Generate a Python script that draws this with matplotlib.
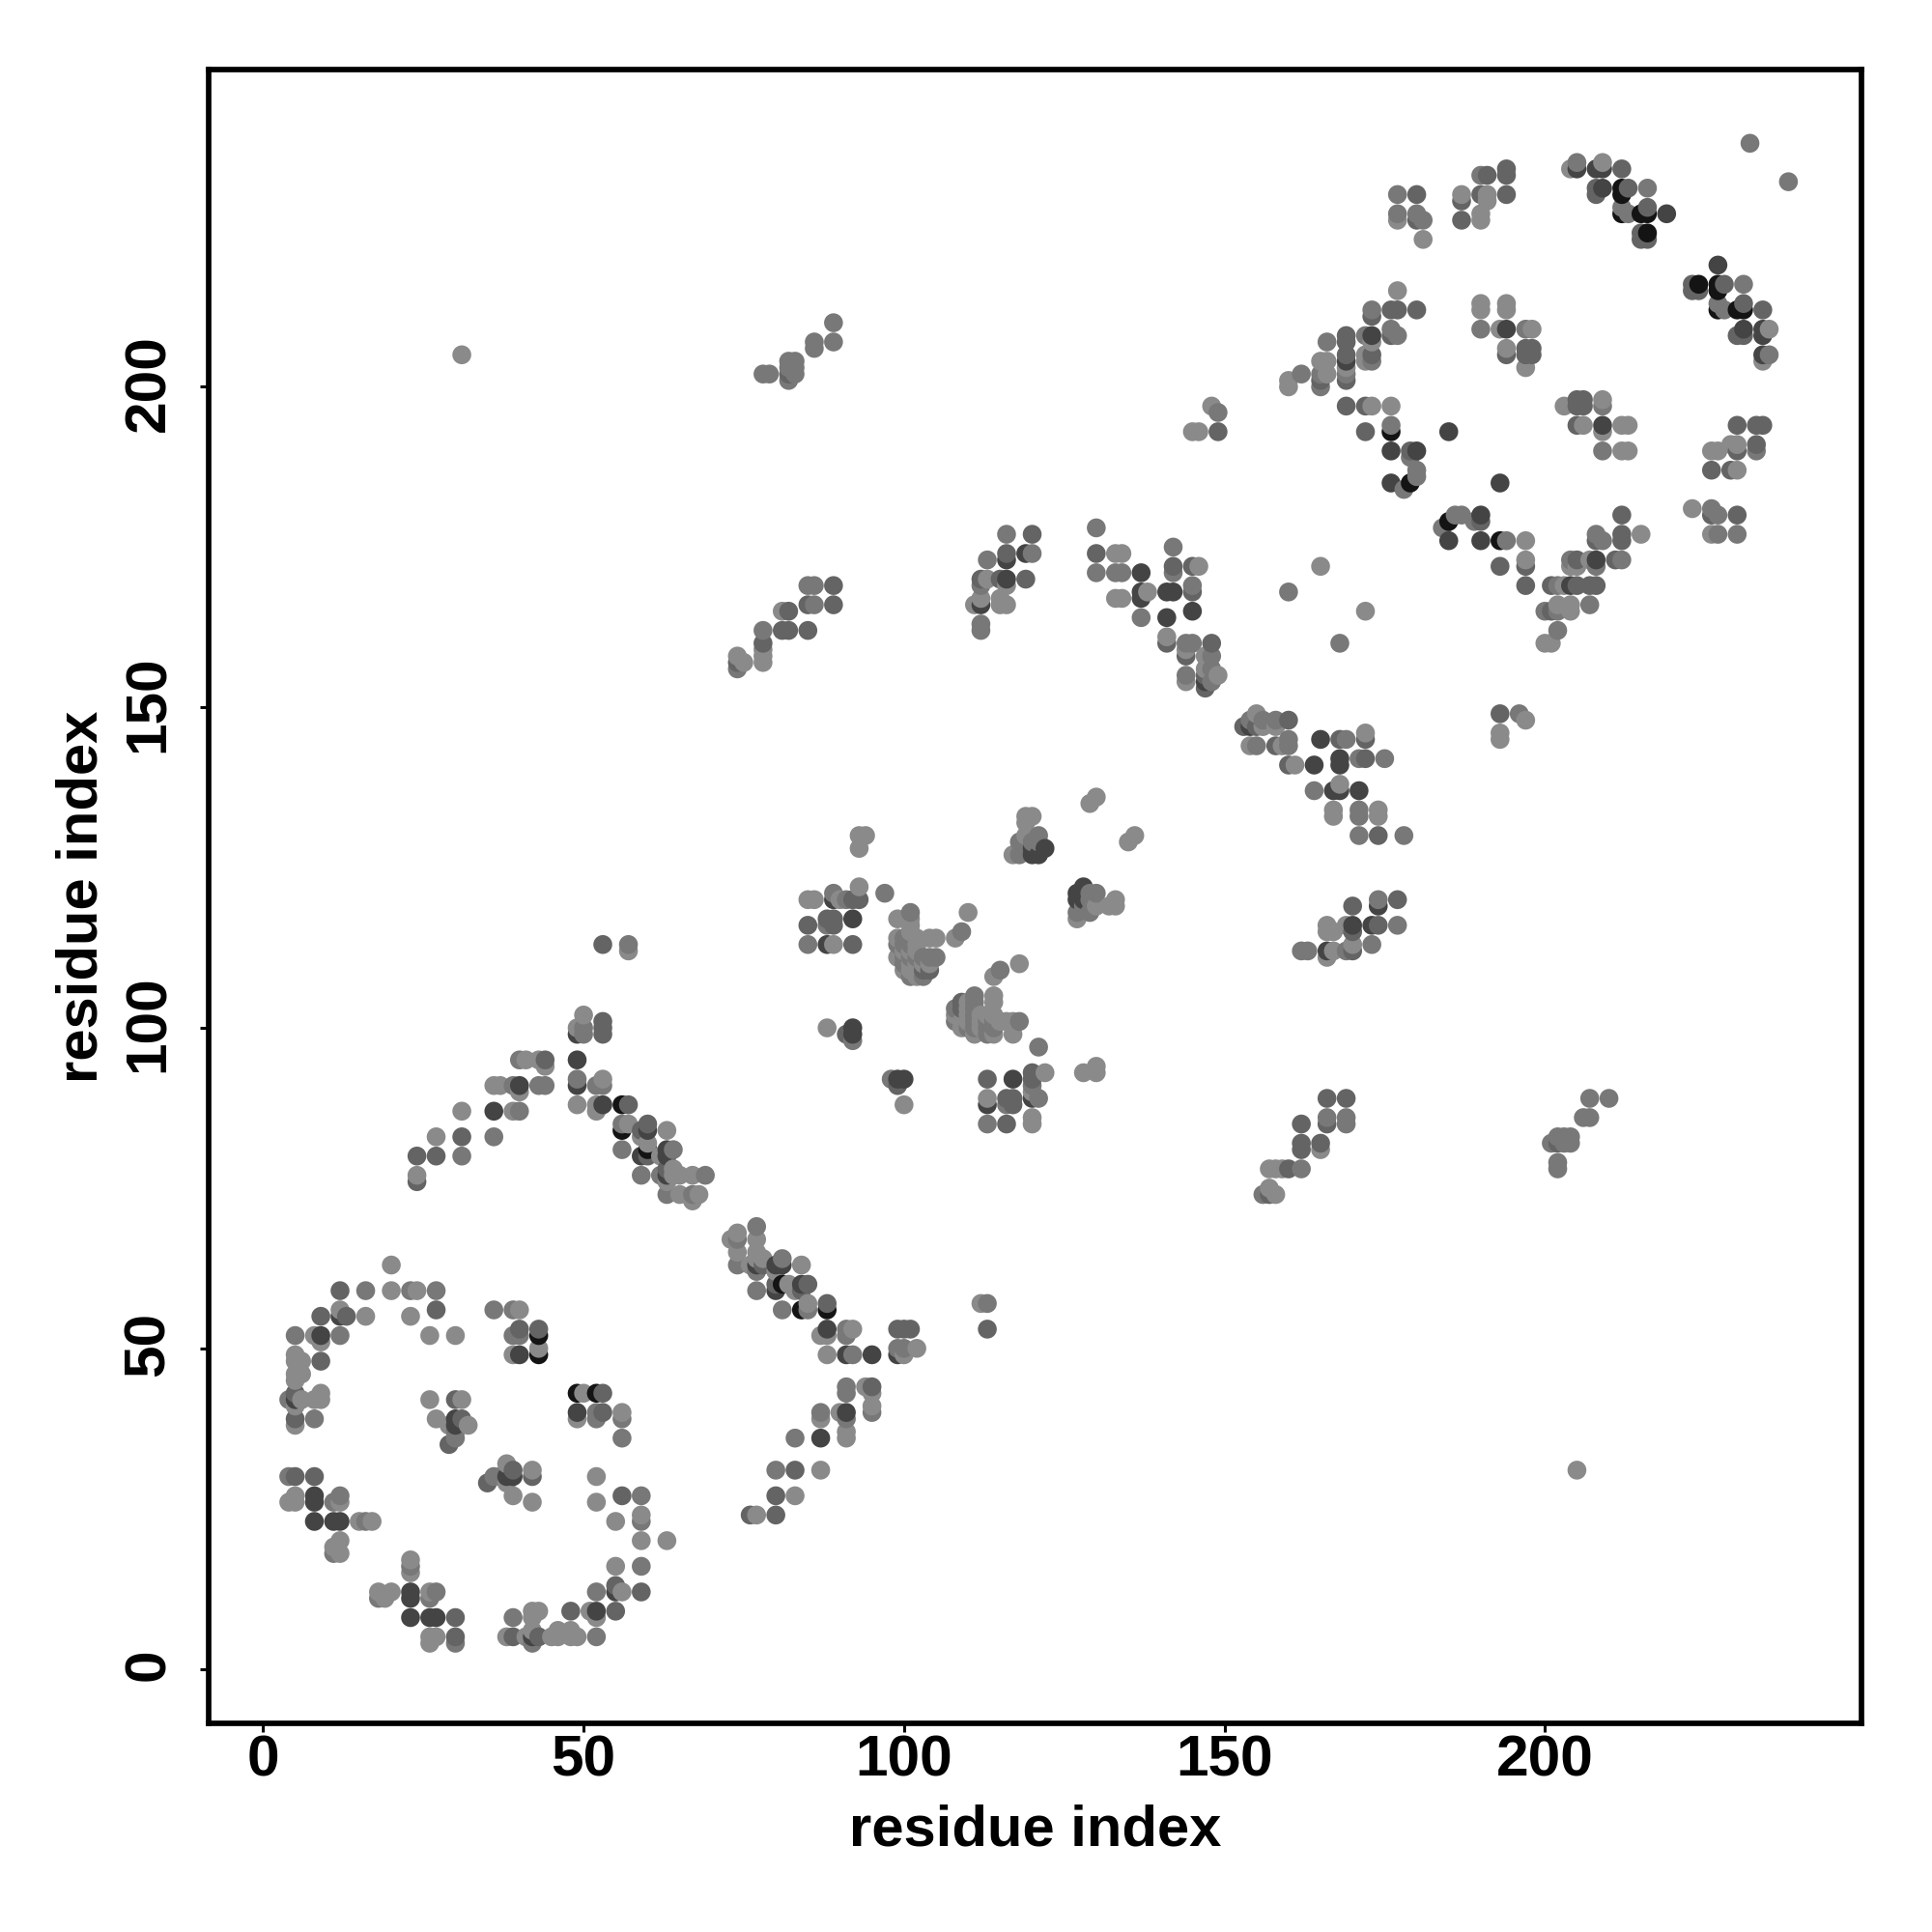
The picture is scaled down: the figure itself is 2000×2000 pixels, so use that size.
import matplotlib
import matplotlib.pyplot as plt
import numpy as np
from matplotlib.transforms import ScaledTranslation

matplotlib.use('Agg')

# residue contacts, (i, j) with i < j; the map is symmetric
black = [(43,49),(43,52),(56,84),(56,88),(60,81),(176,193),(179,185),(212,227),(212,230),(212,231),
         (215,227),(216,224),(216,227)]
dark = [(5,42),(8,23),(8,26),(8,27),(9,52),(11,23),(12,23),(12,55),(30,38),(30,39),(40,49),
        (36,87),(40,91),(49,91),(49,95),(49,99),(53,88),(59,80),(60,84),(63,77),(63,80),(63,81),
        (88,113),(89,120),(92,99),(92,100),(92,117),(120,127),(120,128),(121,127),(122,128),
        (112,166),(116,170),(116,173),(119,174),(137,167),(137,168),(137,171),(141,164),(141,168),
        (142,168),(145,165),(147,154),(173,208),(176,185),(176,190),(180,190),(185,193),(169,204),
        (194,209),(205,234),(208,234),(209,231),(209,234),(219,227)]
dim = [(5,30),(5,39),(5,43),(8,30),(9,48),(9,55),(12,59),(13,55),(27,56),(29,35),(30,42),(31,39),
       (40,53),(43,53),(44,95),(53,99),(53,100),(53,101),(53,113),(24,76),(24,80),(27,80),(31,83),
       (57,88),(59,84),(60,80),(60,85),(63,78),(85,116),(88,117),(89,116),(89,117),(91,99),(92,113),
       (92,120),(93,120),(103,109),(104,109),(127,120),(112,170),(115,170),(116,174),(119,170),
       (120,177),(130,174),(141,160),(142,172),(144,158),(145,168),(145,172),(147,153),(147,155),
       (148,160),(74,157),(78,160),(81,162),(82,162),(82,165),(85,162),(85,166),(89,166),(89,169),
       (82,202),(165,201),(169,201),(169,205),(169,207),(169,208),(172,193),(172,197),(173,211),
       (176,208),(176,212),(177,212),(180,212),(179,190),(149,193),(180,226),(180,230),(187,226),
       (187,229),(190,230),(191,233),(194,230),(194,233),(194,234),(194,205),(197,205),(197,206),
       (198,205),(198,206),(208,230),(208,231),(212,234),(213,231),(215,223),(215,224),(216,223),
       (216,228),(230,190),(230,194),(233,191),(233,194),(234,194),(226,180),(226,187),(230,180),
       (212,176),(212,177),(212,180),(208,176),(193,172),(197,169),(205,173)]
mid = [(4,30),(4,42),(5,52),(8,39),(11,18),(11,26),(12,27),(12,52),(16,23),(16,59),(23,59),(27,59),
       (30,36),(30,37),(36,56),(39,52),(39,56),(40,52),(31,80),(36,83),(39,91),(40,87),(40,95),
       (43,91),(44,91),(49,92),(50,99),(50,100),(52,91),(53,91),(56,81),(56,85),(57,113),(59,77),
       (62,77),(63,74),(64,81),(67,74),(69,77),(85,113),(88,116),(89,121),(91,120),(97,121),(92,98),
       (99,113),(100,110),(100,111),(100,113),(100,114),(101,108),(101,111),(101,113),(101,114),
       (101,118),(102,111),(103,108),(103,111),(104,111),(105,111),(109,115),
       (118,127),(118,129),(119,128),(120,129),(121,129),(121,130),(127,118),(128,119),
       (112,162),(112,163),(112,169),(113,173),(116,177),(120,174),(130,171),(130,178),(133,171),
       (134,171),(137,164),(142,171),(142,175),(144,155),(144,160),(145,160),(145,169),(148,154),
       (148,156),(148,158),(74,156),(78,162),(85,169),(86,166),(86,169),(78,202),(79,202),(82,201),
       (82,203),(82,204),(83,202),(83,203),(83,204),(86,206),(86,207),(89,207),(89,210),(160,168),
       (149,196),(162,202),(165,200),(165,202),(166,207),(169,202),(172,208),(173,204),(173,205),
       (173,212),(176,194),(176,209),(177,208),(179,189),(180,186),(180,187),(177,230),(180,227),
       (181,226),(190,209),(197,209),(205,235),(212,228),(213,227),(216,231),(229,187),(227,180),
       (227,177),(230,177),(233,190),(232,238),(178,184),(211,173)]
light = [(4,26),(5,26),(5,27),(5,38),(5,41),(5,45),(5,46),(5,48),(5,49),(6,42),(6,46),
         (6,48),(8,42),(8,52),(9,42),(9,43),(9,51),(11,19),(12,18),(12,20),(12,26),(12,56),(15,23),
         (16,55),(17,23),(20,59),(20,63),(23,55),(24,59),(26,42),(26,52),(27,39),(29,38),(30,52),
         (31,42),(32,38),(39,49),(40,56),(43,50),(24,77),(27,83),(31,87),(36,91),(37,91),(39,87),
         (40,90),(41,95),(43,95),(44,94),(49,88),(49,100),(50,102),(52,87),(52,88),(53,92),(57,85),
         (57,112),(59,83),(60,82),(62,80),(63,76),(63,84),(64,77),(64,78),(65,74),(65,77),(67,73),
         (67,77),(68,74),(85,120),(86,120),(88,100),(89,113),(90,120),(93,122),(93,128),(93,130),
         (94,130),(99,111),(99,114),(99,117),(100,109),(100,112),(101,109),(101,110),(101,112),
         (101,115),(101,116),(101,117),(102,108),(102,110),(102,112),(102,113),(102,114),(103,110),
         (104,110),(104,114),(105,114),(108,114),(110,118),(117,127),(119,130),(119,132),(119,133),
         (120,133),(129,135),(130,136),(111,166),(112,167),(113,170),(115,166),(115,167),(116,166),
         (116,169),(133,167),(133,174),(134,167),(134,174),(138,168),(141,161),(144,154),(144,159),
         (146,172),(147,156),(147,158),(149,155),(74,158),(75,157),(78,157),(78,158),(78,159),
         (81,165),(145,193),(146,193),(148,197),(165,172),(31,205),(160,200),(160,201),(165,204),
         (166,202),(166,204),(169,203),(172,204),(172,205),(173,197),(173,207),(176,197),(177,215),
         (177,226),(177,227),(181,223),(187,230),(190,226),(190,227),(190,212),(190,213),(190,233),
         (191,229),(191,230),(193,209),(194,206),(194,212),(194,213),(197,203),(198,209),(204,234),
         (209,235),(223,181),(226,181),(226,177),(226,190),(227,190),(229,191),(230,191),(230,187)]

levels = [(black, '#141414'), (dark, '#444444'), (dim, '#646464'), (mid, '#787878'), (light, '#8a8a8a')]

shades = {}
for pairs, shade in levels:
    for a, b in pairs:
        shades.setdefault((a, b), shade)
        shades.setdefault((b, a), shade)

# later residue draws on top, as in the reference
points = sorted(shades)
xs = np.array([p[0] for p in points])
ys = np.array([p[1] for p in points])
colors = [shades[p] for p in points]

fig = plt.figure(figsize=(20, 20), dpi=100)
ax = fig.add_axes([216 / 2000, 216 / 2000, 1711 / 2000, 1712 / 2000])
ax.scatter(xs, ys, s=198, c=colors, linewidths=0, zorder=3)
ax.set_xlim(-8.5, 249.4)
ax.set_ylim(-8.5, 249.5)
ax.set_xticks([0, 50, 100, 150, 200])
ax.set_yticks([0, 50, 100, 150, 200])
for spine in ax.spines.values():
    spine.set_linewidth(4.1)
ax.tick_params(axis='x', length=6.4, width=2.2, pad=2)
ax.tick_params(axis='y', length=6.4, width=2.2, pad=18)
up = ScaledTranslation(0, 4 / 100, fig.dpi_scale_trans)
for label in ax.get_xticklabels():
    label.set(family='Liberation Sans', weight='bold', size=43.5)
for label in ax.get_yticklabels():
    label.set(family='Liberation Sans', weight='bold', size=43.5, rotation=90, va='center')
    label.set_transform(label.get_transform() + up)
ax.set_xlabel('residue index', family='Liberation Sans', weight='bold', size=43, labelpad=12.4)
ax.set_ylabel('residue index', family='Liberation Sans', weight='bold', size=43, labelpad=10.6)
plt.savefig('out.png', dpi=100)
plt.close(fig)
